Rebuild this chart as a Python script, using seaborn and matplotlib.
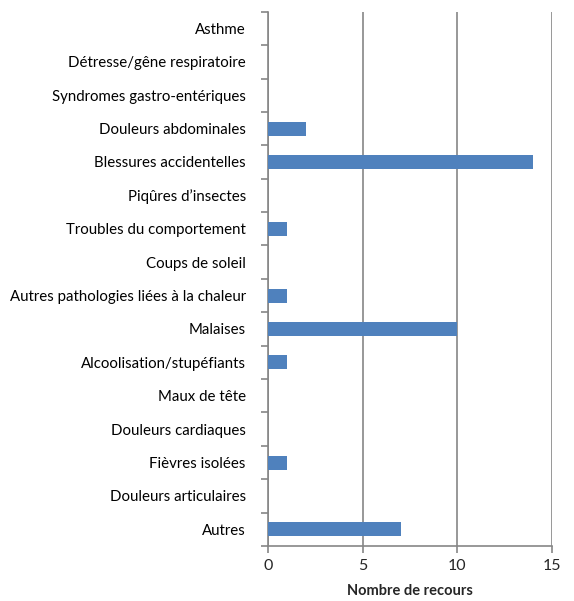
import pandas as pd
import numpy as np
import matplotlib
matplotlib.use("Agg")
import matplotlib.pyplot as plt
import seaborn as sns
from matplotlib.ticker import FixedLocator

# Data
categories = [
    "Asthme",
    "Détresse/gêne respiratoire",
    "Syndromes gastro-entériques",
    "Douleurs abdominales",
    "Blessures accidentelles",
    "Piqûres d’insectes",
    "Troubles du comportement",
    "Coups de soleil",
    "Autres pathologies liées à la chaleur",
    "Malaises",
    "Alcoolisation/stupéfiants",
    "Maux de tête",
    "Douleurs cardiaques",
    "Fièvres isolées",
    "Douleurs articulaires",
    "Autres",
]
recours = [0, 0, 0, 2, 14, 0, 1, 0, 1, 10, 1, 0, 0, 1, 0, 7]
x_ticks = [0, 5, 10, 15]

df = pd.DataFrame({"categorie": categories, "recours": recours})

sns.set_theme(style="white")
plt.rcParams['font.family'] = ['Lato', 'DejaVu Sans']

grey = "#868686"
fig = plt.figure(figsize=(5.74, 6.01), dpi=100)
ax = fig.add_axes([0.467, 0.0915, 0.495, 0.889])

sns.barplot(data=df, x="recours", y="categorie", orient="h",
            color="#4F81BD", saturation=1, width=0.42, linewidth=0,
            ax=ax, zorder=3)

ax.set_xlim(0, 15)
ax.set_ylim(len(categories) - 0.5, -0.5)
ax.xaxis.set_major_locator(FixedLocator(x_ticks))
ax.set_xticklabels([str(t) for t in x_ticks])
ax.grid(axis="x", color=grey, linewidth=1.2, zorder=0)
ax.grid(axis="y", visible=False)

for side in ["top", "right"]:
    ax.spines[side].set_visible(False)
for side in ["left", "bottom"]:
    ax.spines[side].set_color(grey)
    ax.spines[side].set_linewidth(1.2)

# category labels centred, tick marks between categories
ax.tick_params(axis="y", which="major", length=0, pad=16, labelsize=10.8, labelcolor="black")
ax.yaxis.set_minor_locator(FixedLocator(np.arange(-0.5, len(categories), 1)))
ax.tick_params(axis="y", which="minor", length=5, width=1.2, color=grey, direction="out", left=True)
ax.tick_params(axis="x", which="major", length=5, width=1.2, color=grey, direction="out",
               bottom=True, labelsize=11.5, pad=4)

ax.set_ylabel("")
ax.set_xlabel("Nombre de recours", fontsize=10.5, fontweight="bold", labelpad=8)

fig.savefig("out.png", dpi=100)
